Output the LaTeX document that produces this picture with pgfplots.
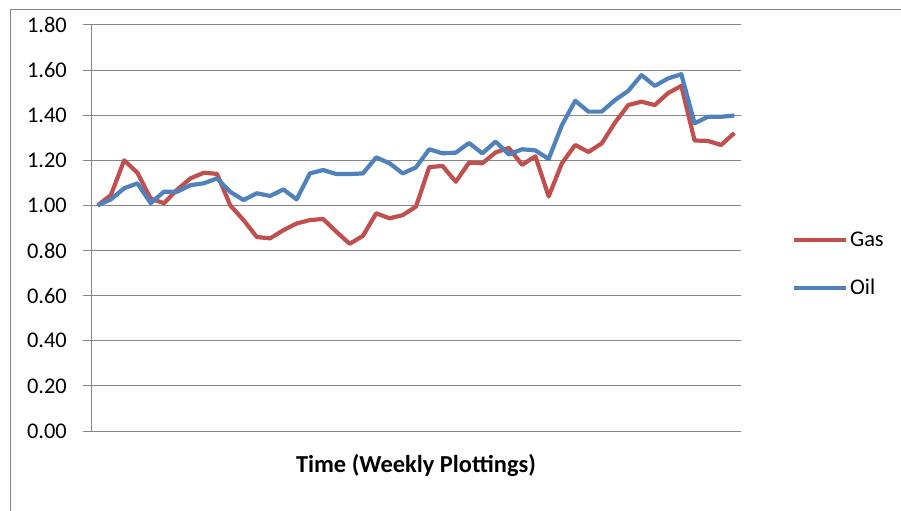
\documentclass[border=0pt]{standalone}
\usepackage{pgfplots}
\pgfplotsset{compat=1.18}
\usepackage{fontspec}
\setmainfont{Carlito}
\definecolor{gasred}{RGB}{192,80,77}
\definecolor{oilblue}{RGB}{79,129,189}
\definecolor{gridgray}{RGB}{134,134,134}
\begin{document}
\begin{tikzpicture}
\path[use as bounding box] (0bp,0bp) rectangle (901bp,511bp);
\draw[gridgray, line width=1bp] (10bp,0bp) -- (10bp,501bp) -- (901bp,501bp);
\begin{axis}[
  at={(91bp,80bp)}, anchor=south west,
  scale only axis, width=650bp, height=406bp,
  xmin=-0.5, xmax=48.5, ymin=0, ymax=1.8,
  ytick={0,0.2,...,1.8},
  xtick=\empty,
  axis x line*=bottom, axis y line*=left,
  axis line style={gridgray, line width=1bp, -},
  ymajorgrids, grid style={gridgray, line width=1bp},
  tick align=outside, major tick length=8bp,
  ytick style={gridgray, line width=1bp},
  font=\fontsize{22.5}{27}\selectfont,
  /pgf/number format/assume math mode=true,
  yticklabel={\pgfmathprintnumber[fixed, fixed zerofill, precision=2]{\tick}},
  yticklabel style={anchor=east, inner sep=0pt, xshift=-16bp},
  xlabel={\fontsize{24.5}{29}\selectfont\bfseries Time (Weekly Plottings)},
  xlabel style={at={(axis description cs:0.5,0)}, anchor=center, yshift=-35bp},
  legend style={draw=none, fill=none, at={(rel axis cs:1.078,0.411)}, anchor=west,
    inner sep=0pt, row sep=27bp, nodes={inner sep=2bp}},
  legend cell align=left,
  legend image code/.code={\draw[#1] (0bp,0bp) -- (52bp,0bp);},
  clip=false,
]
\addplot[gasred, line width=4.2bp, line join=round] coordinates {
(0,1.00)(1,1.046)(2,1.20)(3,1.145)(4,1.03)(5,1.01)(6,1.07)(7,1.12)(8,1.145)(9,1.14)
(10,1.00)(11,0.935)(12,0.86)(13,0.854)(14,0.89)(15,0.92)(16,0.935)(17,0.94)(18,0.883)(19,0.83)
(20,0.865)(21,0.965)(22,0.943)(23,0.957)(24,0.995)(25,1.17)(26,1.175)(27,1.105)(28,1.19)(29,1.187)
(30,1.235)(31,1.255)(32,1.18)(33,1.218)(34,1.04)(35,1.187)(36,1.268)(37,1.237)(38,1.275)(39,1.367)
(40,1.445)(41,1.46)(42,1.445)(43,1.498)(44,1.53)(45,1.288)(46,1.286)(47,1.268)(48,1.321)
};
\addlegendentry{Gas}
\addplot[oilblue, line width=4.2bp, line join=round] coordinates {
(0,1.00)(1,1.027)(2,1.076)(3,1.098)(4,1.01)(5,1.061)(6,1.061)(7,1.09)(8,1.098)(9,1.12)
(10,1.06)(11,1.024)(12,1.054)(13,1.042)(14,1.071)(15,1.027)(16,1.142)(17,1.157)(18,1.139)(19,1.139)
(20,1.142)(21,1.213)(22,1.187)(23,1.142)(24,1.169)(25,1.249)(26,1.231)(27,1.234)(28,1.277)(29,1.231)
(30,1.283)(31,1.226)(32,1.249)(33,1.244)(34,1.206)(35,1.356)(36,1.464)(37,1.416)(38,1.416)(39,1.467)
(40,1.508)(41,1.578)(42,1.53)(43,1.563)(44,1.582)(45,1.364)(46,1.393)(47,1.393)(48,1.399)
};
\addlegendentry{Oil}
\end{axis}
\end{tikzpicture}
\end{document}
